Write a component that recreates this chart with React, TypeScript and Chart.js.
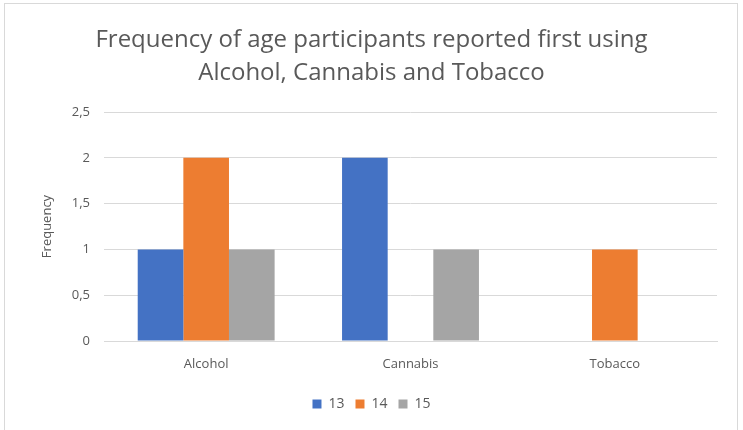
import React, { useEffect, useRef } from "react";
import { Chart, registerables } from "chart.js";

Chart.register(...registerables);

const categories = ["Alcohol", "Cannabis", "Tobacco"];
const seriesNames = ["13", "14", "15"];
const age13 = [1, 2, 0];
const age14 = [2, 0, 1];
const age15 = [1, 1, 0];
const colors = ["#4472C4", "#ED7D31", "#A5A5A5"];
const titleLines = [
  "Frequency of age participants reported first using",
  "Alcohol, Cannabis and Tobacco",
];
const yAxisTitle = "Frequency";

const FONT = "'Open Sans', 'Noto Sans', sans-serif";
const TEXT = "#595959";

export default function App() {
  const ref = useRef<HTMLCanvasElement>(null);
  useEffect(() => {
    document.body.style.margin = "0";
    const values = [age13, age14, age15];
    const chart = new Chart(ref.current!, {
      type: "bar",
      data: {
        labels: categories,
        datasets: seriesNames.map((n, i) => ({
          label: n,
          data: values[i],
          backgroundColor: colors[i],
          borderWidth: 0,
          categoryPercentage: 0.67,
          barPercentage: 1,
        })),
      },
      options: {
        animation: false,
        responsive: false,
        maintainAspectRatio: false,
        layout: { padding: { top: 14, right: 0, bottom: 9, left: 0 } },
        plugins: {
          title: {
            display: true,
            text: titleLines,
            color: TEXT,
            font: { family: FONT, size: 24, weight: "normal", lineHeight: 1.375 },
            padding: { top: 9.5, bottom: 22.5 },
          },
          legend: {
            position: "bottom",
            labels: {
              color: TEXT,
              font: { family: FONT, size: 14 },
              boxWidth: 9,
              boxHeight: 9,
              padding: 11,
            },
          },
          tooltip: { enabled: false },
        },
        scales: {
          x: {
            grid: { display: false },
            border: { color: "#d9d9d9" },
            ticks: { color: TEXT, font: { family: FONT, size: 13 }, padding: 7 },
            afterFit: (s: any) => { s.height = 45; },
          },
          y: {
            min: 0,
            max: 2.5,
            ticks: {
              stepSize: 0.5,
              color: TEXT,
              font: { family: FONT, size: 13 },
              padding: 14,
              callback: (v: any) => String(v).replace(".", ","),
            },
            grid: { color: "#d9d9d9", drawTicks: false },
            border: { display: false },
            title: {
              display: true,
              text: yAxisTitle,
              color: TEXT,
              font: { family: FONT, size: 13 },
              padding: { top: 39, bottom: 0 },
            },
            afterFit: (s: any) => { s.width = 104; },
          },
          yRight: {
            position: "right",
            display: true,
            grid: { display: false },
            border: { display: false },
            ticks: { display: false },
            afterFit: (s: any) => { s.width = 26; },
          },
        },
      },
    });
    return () => chart.destroy();
  }, []);
  return (
    <div style={{ position: "relative", width: 743, height: 430, background: "#fff" }}>
      <div style={{ position: "absolute", left: 4, top: 3, width: 734, height: 440, border: "1px solid #d9d9d9", boxSizing: "border-box" }} />
      <canvas ref={ref} width={743} height={430} style={{ position: "absolute", left: 0, top: 0 }} />
    </div>
  );
}
